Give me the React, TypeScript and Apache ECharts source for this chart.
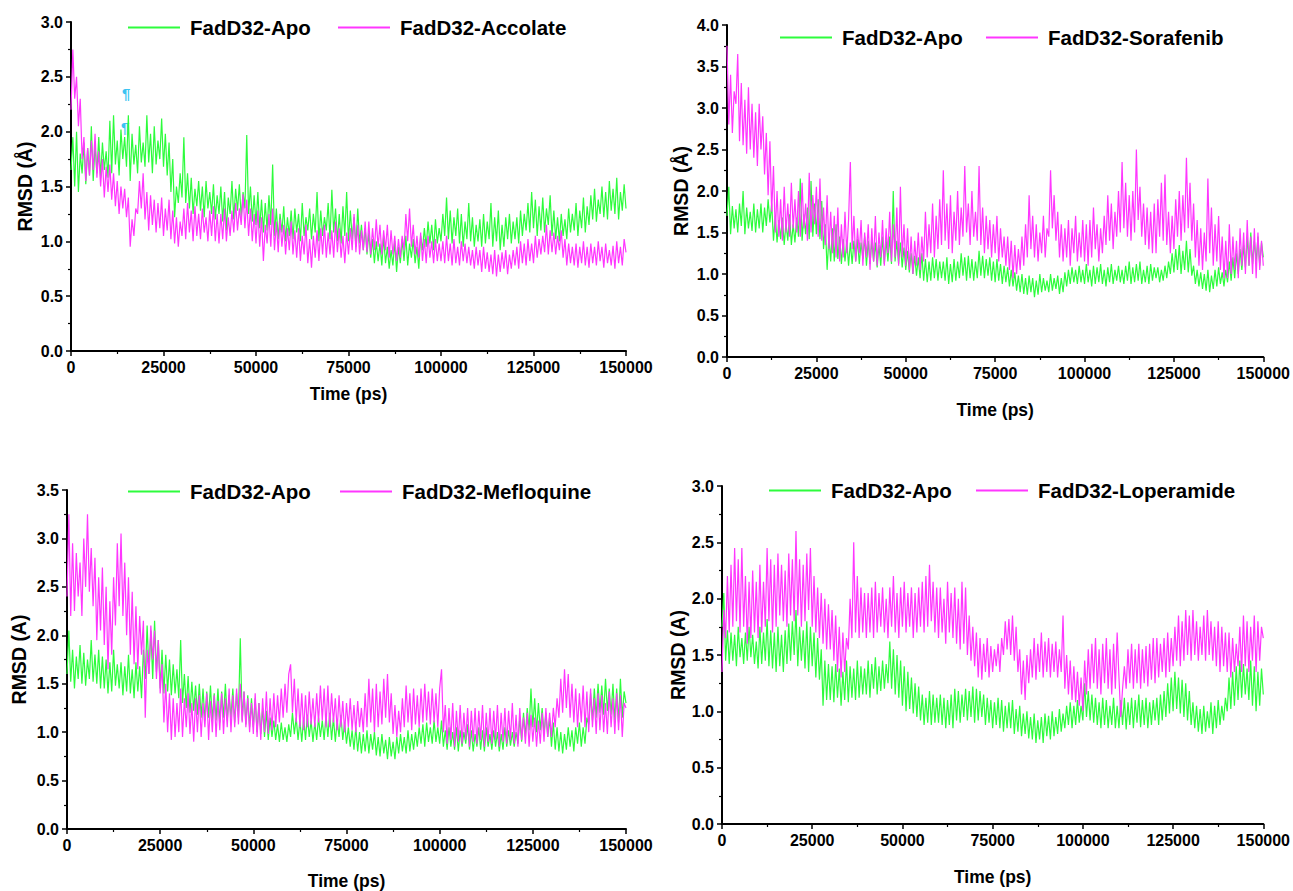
import React, { useEffect, useRef } from "react";
import * as echarts from "echarts";

// ---- data (RMSD in Å, one sample every STEP ps from 0 to 150000 ps; one row = 10000 ps) ----
const STEP = 500;
const xMin = 0;
const xMax = 150000;
const xInterval = 25000;

const apoName = "FadD32-Apo";
const ligandNames = ["FadD32-Accolate", "FadD32-Sorafenib", "FadD32-Mefloquine", "FadD32-Loperamide"];
const yMaxes = [3.0, 4.0, 3.5, 3.0];
const yNames = ["RMSD (Å)", "RMSD (Å)", "RMSD (A)", "RMSD (A)"];
const xName = "Time (ps)";

const apo1 = [
  1.65, 1.95, 1.5, 2.0, 1.45, 1.8, 1.62, 1.9, 1.52, 1.85, 1.6, 2.05, 1.55, 1.88, 1.62, 1.95, 1.58, 1.9, 1.65, 1.82,
  1.58, 2.1, 1.62, 2.15, 1.7, 1.92, 1.6, 2.02, 1.75, 1.95, 1.68, 2.15, 1.55, 1.98, 1.7, 1.88, 1.62, 2.05, 1.72, 1.9,
  1.68, 2.15, 1.72, 1.98, 1.62, 2.05, 1.7, 1.92, 1.75, 2.12, 1.68, 1.98, 1.6, 1.9, 1.45, 1.75, 1.22, 1.5, 1.35, 1.62,
  1.4, 1.95, 1.35, 1.62, 1.3, 1.58, 1.25, 1.48, 1.32, 1.55, 1.28, 1.5, 1.22, 1.55, 1.3, 1.45, 1.25, 1.52, 1.2, 1.42,
  1.25, 1.5, 1.18, 1.45, 1.1, 1.4, 1.25, 1.55, 1.2, 1.48, 1.28, 1.52, 1.22, 1.45, 1.3, 1.97, 1.25, 1.5, 1.18, 1.42,
  1.15, 1.45, 1.12, 1.38, 1.08, 1.35, 1.1, 1.42, 1.15, 1.7, 1.05, 1.3, 1.02, 1.25, 1.08, 1.32, 1.0, 1.22, 1.05, 1.28,
  1.02, 1.3, 1.08, 1.25, 1.0, 1.35, 1.05, 1.22, 1.1, 1.3, 1.02, 1.25, 1.08, 1.45, 1.0, 1.28, 1.05, 1.22, 1.1, 1.35,
  1.02, 1.47, 1.08, 1.3, 1.0, 1.25, 0.98, 1.32, 1.05, 1.45, 1.0, 1.28, 1.02, 1.22, 0.95, 1.3, 0.98, 1.15, 0.92, 1.12,
  0.88, 1.08, 0.85, 1.02, 0.8, 1.0, 0.82, 0.98, 0.78, 1.05, 0.8, 0.95, 0.75, 0.92, 0.78, 1.0, 0.72, 0.95, 0.8, 1.02,
  0.82, 1.05, 0.78, 0.98, 0.85, 1.02, 0.8, 0.95, 0.75, 1.05, 0.92, 1.12, 0.95, 1.18, 0.98, 1.15, 0.92, 1.2, 0.98, 1.12,
  1.0, 1.25, 1.05, 1.4, 1.02, 1.28, 0.98, 1.22, 1.05, 1.3, 0.98, 1.25, 0.95, 1.18, 1.02, 1.35, 1.0, 1.22, 0.95, 1.15,
  1.0, 1.2, 0.95, 1.25, 0.98, 1.18, 1.02, 1.35, 0.95, 1.22, 1.0, 1.28, 0.92, 1.15, 0.95, 1.22, 1.02, 1.25, 0.98, 1.18,
  1.02, 1.22, 0.98, 1.28, 1.05, 1.25, 1.1, 1.35, 1.08, 1.45, 1.12, 1.38, 1.05, 1.32, 1.1, 1.4, 1.08, 1.3, 1.15, 1.42,
  1.05, 1.28, 1.02, 1.22, 1.0, 1.25, 1.05, 1.2, 1.02, 1.3, 1.08, 1.25, 1.1, 1.35, 1.05, 1.28, 1.12, 1.4, 1.08, 1.32,
  1.15, 1.42, 1.2, 1.48, 1.18, 1.38, 1.25, 1.5, 1.22, 1.45, 1.2, 1.55, 1.28, 1.48, 1.25, 1.58, 1.2, 1.45, 1.28, 1.52,
  1.3,
];
const accolate = [
  2.2, 2.75, 2.3, 2.5, 2.05, 2.3, 1.75, 1.95, 1.55, 1.85, 1.6, 1.92, 1.65, 1.98, 1.58, 1.82, 1.5, 1.75, 1.4, 1.68,
  1.45, 1.7, 1.38, 1.62, 1.32, 1.55, 1.25, 1.5, 1.3, 1.48, 1.22, 1.4, 0.95, 1.2, 1.05, 1.3, 1.25, 1.55, 1.3, 1.62,
  1.2, 1.45, 1.1, 1.42, 1.15, 1.38, 1.08, 1.35, 1.12, 1.4, 1.05, 1.3, 1.1, 1.38, 1.02, 1.28, 0.98, 1.22, 0.95, 1.18,
  1.05, 1.3, 1.02, 1.35, 1.08, 1.28, 1.0, 1.32, 1.05, 1.25, 1.02, 1.3, 1.08, 1.22, 1.0, 1.28, 1.05, 1.32, 1.0, 1.25,
  0.98, 1.25, 1.02, 1.3, 1.0, 1.22, 1.05, 1.28, 1.08, 1.35, 1.1, 1.3, 1.15, 1.43, 1.12, 1.38, 1.05, 1.3, 1.0, 1.25,
  0.98, 1.28, 0.95, 1.22, 0.82, 1.15, 0.98, 1.25, 0.95, 1.3, 0.92, 1.18, 0.9, 1.2, 0.95, 1.15, 0.88, 1.12, 0.92, 1.18,
  0.88, 1.1, 0.85, 1.12, 0.82, 1.05, 0.88, 1.15, 0.8, 1.02, 0.76, 1.05, 0.85, 1.1, 0.82, 1.12, 0.88, 1.15, 0.85, 1.08,
  0.88, 1.1, 0.85, 1.18, 0.9, 1.12, 0.85, 1.05, 0.8, 1.08, 0.88, 1.12, 0.92, 1.25, 0.9, 1.15, 0.88, 1.1, 0.92, 1.18,
  0.9, 1.18, 0.88, 1.12, 0.92, 1.2, 0.95, 1.15, 0.88, 1.1, 0.92, 1.15, 0.85, 1.1, 0.88, 1.05, 0.82, 1.02, 0.85, 1.05,
  0.92, 1.25, 1.0, 1.3, 0.95, 1.15, 0.88, 1.05, 0.85, 1.08, 0.82, 1.02, 0.8, 1.05, 0.85, 1.0, 0.8, 1.02, 0.82, 0.98,
  0.82, 1.0, 0.8, 1.05, 0.82, 0.98, 0.78, 1.02, 0.8, 0.95, 0.78, 1.0, 0.82, 0.98, 0.8, 0.95, 0.78, 0.92, 0.75, 0.95,
  0.78, 0.92, 0.72, 0.95, 0.75, 0.9, 0.72, 0.88, 0.7, 0.92, 0.68, 0.88, 0.72, 0.9, 0.75, 0.92, 0.7, 0.88, 0.75, 0.92,
  0.78, 0.95, 0.75, 1.0, 0.8, 0.98, 0.78, 1.02, 0.82, 0.98, 0.8, 1.05, 0.85, 1.02, 0.88, 1.05, 0.9, 1.15, 0.88, 1.1,
  0.9, 1.08, 0.88, 1.05, 0.92, 1.1, 0.85, 1.02, 0.78, 0.98, 0.8, 0.95, 0.78, 0.98, 0.76, 0.95, 0.8, 1.0, 0.78, 0.95,
  0.76, 0.98, 0.8, 0.95, 0.78, 1.0, 0.82, 0.95, 0.76, 0.98, 0.8, 0.92, 0.78, 0.96, 0.75, 1.0, 0.8, 0.95, 0.78, 1.02,
  0.9,
];
const apo2 = [
  1.7, 2.05, 1.48, 1.82, 1.55, 1.78, 1.5, 1.85, 1.58, 2.0, 1.48, 1.8, 1.55, 1.75, 1.52, 1.85, 1.5, 1.78, 1.55, 1.85,
  1.5, 1.8, 1.58, 1.9, 1.62, 1.85, 1.4, 1.7, 1.38, 1.65, 1.42, 1.68, 1.35, 1.62, 1.4, 1.72, 1.35, 1.6, 1.38, 1.68,
  1.45, 2.15, 1.4, 1.72, 1.48, 1.8, 1.42, 2.12, 1.45, 1.85, 1.48, 1.9, 1.42, 1.88, 1.3, 1.6, 1.05, 1.45, 1.15, 1.55,
  1.15, 1.6, 1.18, 1.45, 1.12, 1.42, 1.15, 1.4, 1.1, 1.38, 1.12, 1.4, 1.15, 1.42, 1.12, 1.38, 1.18, 1.45, 1.1, 1.4,
  1.12, 1.4, 1.15, 1.38, 1.08, 1.35, 1.1, 1.45, 1.12, 1.42, 1.15, 1.45, 1.12, 2.0, 1.15, 1.4, 1.12, 1.38, 1.08, 1.32,
  1.05, 1.28, 1.02, 1.25, 1.0, 1.22, 0.98, 1.2, 0.95, 1.25, 0.92, 1.18, 0.9, 1.15, 0.92, 1.2, 0.95, 1.18, 0.92, 1.15,
  0.95, 1.15, 0.92, 1.2, 0.88, 1.12, 0.9, 1.18, 0.92, 1.15, 0.95, 1.25, 0.98, 1.2, 0.92, 1.22, 0.95, 1.18, 0.92, 1.15,
  0.95, 1.28, 0.98, 1.22, 0.95, 1.18, 0.98, 1.2, 0.92, 1.15, 0.9, 1.18, 0.92, 1.12, 0.88, 1.1, 0.9, 1.08, 0.85, 1.05,
  0.85, 1.02, 0.8, 0.98, 0.78, 1.0, 0.76, 0.95, 0.75, 0.98, 0.78, 0.95, 0.72, 0.92, 0.75, 1.0, 0.78, 0.95, 0.8, 0.92,
  0.78, 1.0, 0.8, 0.95, 0.82, 0.98, 0.76, 0.95, 0.78, 1.02, 0.85, 1.05, 0.88, 1.08, 0.9, 1.05, 0.88, 1.1, 0.9, 1.05,
  0.88, 1.12, 0.9, 1.05, 0.85, 1.1, 0.88, 1.08, 0.9, 1.12, 0.88, 1.05, 0.85, 1.08, 0.9, 1.12, 0.88, 1.05, 0.92, 1.1,
  0.9, 1.05, 0.88, 1.1, 0.92, 1.15, 0.88, 1.08, 0.9, 1.12, 0.92, 1.15, 0.88, 1.05, 0.9, 1.1, 0.88, 1.12, 0.92, 1.08,
  0.95, 1.08, 0.9, 1.05, 0.92, 1.1, 0.95, 1.15, 1.0, 1.25, 1.02, 1.3, 1.05, 1.35, 1.0, 1.28, 1.05, 1.4, 1.02, 1.3,
  0.98, 1.1, 0.88, 1.05, 0.85, 1.02, 0.82, 1.0, 0.8, 1.05, 0.78, 0.98, 0.82, 1.05, 0.85, 1.08, 0.88, 1.02, 0.85, 1.05,
  0.9, 1.15, 0.92, 1.2, 0.95, 1.25, 1.0, 1.3, 1.05, 1.35, 1.08, 1.45, 1.1, 1.5, 1.12, 1.4, 1.15, 1.45, 1.1, 1.38,
  1.2,
];
const sorafenib = [
  3.75, 2.8, 3.4, 2.7, 3.2, 3.05, 3.65, 2.6, 3.3, 2.55, 3.1, 2.45, 3.25, 2.5, 3.05, 2.4, 2.95, 2.3, 3.05, 2.5,
  2.9, 2.2, 2.7, 1.95, 2.6, 1.75, 2.3, 1.5, 2.0, 1.45, 1.9, 1.4, 2.05, 1.5, 1.85, 1.45, 2.1, 1.55, 1.9, 1.5,
  2.0, 1.45, 2.1, 1.55, 1.85, 1.4, 2.22, 1.5, 1.95, 1.6, 2.05, 1.45, 2.15, 1.4, 1.8, 1.35, 1.95, 1.3, 1.75, 1.25,
  1.7, 1.2, 1.8, 1.15, 1.6, 1.2, 1.75, 1.25, 1.65, 2.35, 1.3, 1.7, 1.15, 1.55, 1.25, 1.65, 1.1, 1.5, 1.2, 1.6,
  1.05, 1.55, 1.15, 1.7, 1.1, 1.5, 1.2, 1.65, 1.1, 1.55, 1.25, 1.75, 1.15, 1.6, 1.2, 1.8, 1.1, 2.05, 1.2, 1.6,
  1.1, 1.55, 1.05, 1.45, 1.0, 1.4, 1.1, 1.5, 1.05, 1.45, 1.15, 1.75, 1.2, 1.6, 1.25, 1.85, 1.2, 1.7, 1.3, 1.9,
  1.35, 2.25, 1.4, 1.85, 1.3, 1.95, 1.25, 1.75, 1.4, 2.0, 1.35, 1.8, 1.45, 2.3, 1.5, 1.85, 1.35, 2.0, 1.45, 1.75,
  1.4, 2.3, 1.35, 1.8, 1.25, 1.7, 1.3, 1.65, 1.2, 1.6, 1.25, 1.7, 1.15, 1.55, 1.2, 1.45, 1.1, 1.45, 1.05, 1.4,
  0.95, 1.35, 1.0, 1.3, 1.05, 1.45, 1.1, 1.6, 1.2, 1.95, 1.3, 1.7, 1.2, 1.6, 1.15, 1.5, 1.25, 1.7, 1.2, 1.55,
  1.45, 2.25, 1.55, 1.95, 1.4, 1.75, 1.2, 1.6, 1.15, 1.55, 1.2, 1.65, 1.1, 1.55, 1.25, 1.7, 1.15, 1.5, 1.2, 1.65,
  1.15, 1.6, 1.1, 1.65, 1.2, 1.8, 1.3, 1.6, 1.15, 1.55, 1.25, 1.7, 1.35, 1.95, 1.4, 1.85, 1.3, 1.75, 1.45, 2.0,
  1.5, 2.35, 1.55, 2.1, 1.45, 1.95, 1.4, 2.0, 1.5, 2.5, 1.65, 2.05, 1.45, 1.85, 1.35, 1.8, 1.3, 1.75, 1.25, 1.85,
  1.25, 1.9, 1.45, 2.1, 1.4, 2.2, 1.35, 1.75, 1.25, 1.7, 1.3, 1.9, 1.45, 2.0, 1.4, 1.95, 1.5, 2.4, 1.55, 2.1,
  1.4, 1.85, 1.2, 1.65, 1.1, 1.55, 1.05, 1.5, 1.15, 2.15, 1.25, 1.8, 1.1, 1.6, 1.15, 1.7, 1.05, 1.45, 0.95, 1.4,
  0.95, 1.6, 1.0, 1.45, 1.05, 1.4, 0.95, 1.55, 1.1, 1.5, 1.0, 1.65, 1.1, 1.45, 1.0, 1.55, 0.95, 1.5, 1.05, 1.4,
  1.1,
];
const apo3 = [
  1.6, 2.05, 1.52, 1.85, 1.45, 1.78, 1.55, 1.9, 1.5, 1.82, 1.48, 1.75, 1.55, 1.95, 1.52, 1.8, 1.5, 1.85, 1.45, 1.78,
  1.45, 1.75, 1.4, 1.72, 1.42, 1.85, 1.48, 1.7, 1.45, 1.72, 1.38, 1.68, 1.42, 1.8, 1.4, 1.65, 1.35, 1.72, 1.42, 1.68,
  1.35, 1.85, 1.55, 2.1, 1.6, 2.05, 1.55, 2.15, 1.62, 1.95, 1.45, 1.85, 1.4, 1.8, 1.42, 1.75, 1.38, 1.7, 1.4, 1.65,
  1.35, 1.95, 1.3, 1.6, 1.25, 1.58, 1.2, 1.52, 1.22, 1.48, 1.18, 1.5, 1.15, 1.45, 1.12, 1.42, 1.15, 1.48, 1.12, 1.4,
  1.12, 1.45, 1.1, 1.42, 1.15, 1.5, 1.12, 1.38, 1.15, 1.45, 1.1, 1.4, 1.15, 1.97, 1.12, 1.42, 1.08, 1.38, 1.05, 1.35,
  1.05, 1.35, 1.0, 1.3, 0.98, 1.25, 0.95, 1.22, 0.92, 1.15, 0.95, 1.12, 0.92, 1.08, 0.9, 1.1, 0.92, 1.05, 0.9, 1.08,
  0.95, 1.2, 0.98, 1.15, 0.92, 1.12, 0.9, 1.15, 0.92, 1.18, 0.95, 1.12, 0.9, 1.1, 0.92, 1.15, 0.95, 1.12, 0.92, 1.18,
  0.95, 1.2, 0.92, 1.15, 0.9, 1.12, 0.95, 1.18, 0.92, 1.1, 0.88, 1.05, 0.85, 1.02, 0.82, 1.05, 0.8, 1.0, 0.78, 0.98,
  0.8, 1.02, 0.78, 0.98, 0.82, 1.0, 0.76, 0.95, 0.75, 0.98, 0.78, 0.92, 0.72, 0.95, 0.75, 0.9, 0.72, 0.95, 0.78, 0.98,
  0.8, 0.95, 0.78, 1.02, 0.8, 0.98, 0.82, 1.0, 0.85, 1.05, 0.88, 1.08, 0.85, 1.1, 0.9, 1.05, 0.88, 1.12, 0.9, 1.05,
  0.88, 1.12, 0.85, 1.02, 0.82, 1.05, 0.85, 1.0, 0.82, 1.05, 0.8, 1.02, 0.85, 1.0, 0.88, 1.08, 0.82, 1.02, 0.8, 0.98,
  0.85, 1.05, 0.82, 1.02, 0.8, 1.05, 0.85, 0.98, 0.82, 1.02, 0.85, 1.0, 0.8, 0.98, 0.82, 1.05, 0.85, 1.02, 0.86, 1.0,
  0.85, 1.0, 0.88, 1.15, 0.9, 1.2, 0.95, 1.25, 1.02, 1.45, 1.05, 1.35, 1.0, 1.3, 1.02, 1.25, 0.98, 1.2, 0.95, 1.15,
  0.85, 1.1, 0.82, 1.05, 0.8, 1.0, 0.78, 0.98, 0.82, 1.05, 0.85, 1.02, 0.8, 1.05, 0.88, 1.1, 0.85, 1.05, 0.88, 1.15,
  1.08, 1.4, 1.12, 1.45, 1.15, 1.5, 1.2, 1.48, 1.18, 1.55, 1.22, 1.45, 1.18, 1.5, 1.12, 1.45, 1.1, 1.55, 1.15, 1.42,
  1.3,
];
const mefloquine = [
  2.4, 3.25, 2.2, 2.95, 2.25, 2.85, 2.4, 2.75, 2.2, 3.0, 2.5, 3.25, 2.45, 2.9, 2.3, 2.8, 1.95, 2.6, 2.05, 2.7,
  1.9, 2.5, 1.65, 2.35, 1.8, 2.6, 2.1, 2.95, 2.3, 3.05, 2.2, 2.75, 2.0, 2.6, 1.8, 2.45, 1.7, 2.3, 1.65, 2.2,
  1.8, 2.15, 1.15, 1.85, 1.6, 2.1, 1.75, 2.05, 1.55, 1.95, 1.4, 1.7, 1.1, 1.5, 1.0, 1.4, 0.92, 1.35, 0.95, 1.3,
  1.0, 1.45, 0.95, 1.35, 1.05, 1.4, 0.98, 1.3, 0.9, 1.35, 1.0, 1.38, 0.95, 1.3, 1.05, 1.4, 0.92, 1.32, 1.0, 1.38,
  0.95, 1.32, 1.02, 1.4, 0.98, 1.35, 1.05, 1.45, 1.0, 1.38, 1.05, 1.45, 1.08, 1.5, 1.1, 1.42, 1.05, 1.35, 1.0, 1.3,
  0.98, 1.4, 0.95, 1.3, 0.92, 1.35, 1.0, 1.42, 0.98, 1.35, 1.02, 1.4, 1.05, 1.38, 1.1, 1.45, 1.15, 1.5, 1.2, 1.6,
  1.7, 1.2, 1.55, 1.1, 1.45, 1.05, 1.4, 1.02, 1.38, 1.05, 1.42, 1.08, 1.35, 1.05, 1.4, 1.1, 1.48, 1.12, 1.45, 1.05,
  1.48, 1.05, 1.4, 1.1, 1.35, 1.02, 1.38, 1.05, 1.32, 1.0, 1.3, 1.05, 1.35, 1.02, 1.28, 1.0, 1.32, 1.05, 1.25, 1.0,
  1.4, 1.05, 1.55, 1.1, 1.45, 1.0, 1.5, 1.05, 1.42, 1.08, 1.55, 1.15, 1.6, 1.1, 1.4, 0.98, 1.28, 0.95, 1.22, 1.0,
  1.35, 1.05, 1.48, 1.1, 1.4, 1.02, 1.45, 1.08, 1.38, 1.05, 1.45, 1.1, 1.5, 1.12, 1.42, 1.08, 1.45, 1.1, 1.4, 1.05,
  1.45, 1.65, 1.0, 1.28, 0.88, 1.25, 0.92, 1.3, 0.85, 1.22, 0.9, 1.28, 0.88, 1.2, 0.92, 1.25, 0.85, 1.22, 0.9, 1.25,
  0.88, 1.22, 0.92, 1.28, 0.85, 1.2, 0.9, 1.25, 0.88, 1.22, 0.92, 1.28, 0.85, 1.2, 0.9, 1.25, 0.88, 1.22, 0.92, 1.3,
  0.88, 1.18, 0.85, 1.25, 0.92, 1.15, 0.88, 1.2, 0.85, 1.18, 0.9, 1.15, 0.85, 1.12, 0.88, 1.2, 0.9, 1.25, 0.95, 1.2,
  0.95, 1.25, 1.05, 1.35, 1.15, 1.55, 1.2, 1.65, 1.25, 1.6, 1.15, 1.5, 1.1, 1.45, 1.05, 1.4, 1.1, 1.48, 1.05, 1.42,
  1.0, 1.45, 1.05, 1.35, 0.98, 1.4, 1.02, 1.38, 1.0, 1.3, 0.98, 1.42, 1.05, 1.35, 0.98, 1.4, 1.02, 1.38, 0.95, 1.3,
  1.25,
];
const apo4 = [
  1.75, 2.05, 1.45, 1.72, 1.42, 1.7, 1.45, 1.68, 1.4, 1.75, 1.48, 1.65, 1.42, 1.7, 1.45, 1.75, 1.48, 1.68, 1.42, 1.62,
  1.38, 1.75, 1.42, 1.7, 1.45, 1.82, 1.4, 1.72, 1.38, 1.7, 1.35, 1.75, 1.4, 1.68, 1.35, 1.72, 1.42, 1.78, 1.45, 1.8,
  1.5, 1.9, 1.4, 1.75, 1.45, 1.72, 1.38, 1.8, 1.35, 1.75, 1.4, 1.7, 1.3, 1.65, 1.28, 1.55, 1.05, 1.45, 1.1, 1.42,
  1.1, 1.4, 1.08, 1.42, 1.12, 1.38, 1.05, 1.35, 1.1, 1.45, 1.08, 1.4, 1.12, 1.38, 1.1, 1.45, 1.12, 1.4, 1.15, 1.38,
  1.15, 1.45, 1.12, 1.42, 1.2, 1.48, 1.15, 1.4, 1.18, 1.45, 1.2, 1.42, 1.25, 1.62, 1.2, 1.55, 1.15, 1.5, 1.12, 1.45,
  1.05, 1.4, 1.0, 1.35, 1.02, 1.3, 0.98, 1.25, 0.95, 1.22, 0.92, 1.15, 0.88, 1.12, 0.9, 1.18, 0.88, 1.15, 0.9, 1.12,
  0.9, 1.15, 0.88, 1.12, 0.85, 1.1, 0.88, 1.15, 0.85, 1.2, 0.92, 1.18, 0.9, 1.15, 0.95, 1.2, 0.92, 1.18, 0.95, 1.22,
  0.9, 1.2, 0.92, 1.18, 0.95, 1.15, 0.88, 1.12, 0.9, 1.1, 0.85, 1.08, 0.88, 1.12, 0.85, 1.1, 0.82, 1.05, 0.85, 1.08,
  0.85, 1.1, 0.8, 1.02, 0.82, 1.05, 0.78, 0.98, 0.8, 1.0, 0.76, 0.95, 0.75, 0.98, 0.72, 0.92, 0.75, 0.95, 0.72, 0.98,
  0.78, 0.96, 0.75, 1.0, 0.78, 0.95, 0.8, 1.02, 0.82, 0.98, 0.85, 1.05, 0.88, 1.08, 0.85, 1.05, 0.88, 1.1, 0.9, 1.05,
  0.92, 1.25, 0.95, 1.18, 0.92, 1.15, 0.9, 1.12, 0.88, 1.08, 0.85, 1.12, 0.88, 1.1, 0.85, 1.05, 0.88, 1.12, 0.85, 1.05,
  0.85, 1.1, 0.88, 1.12, 0.84, 1.08, 0.88, 1.12, 0.85, 1.1, 0.9, 1.15, 0.86, 1.1, 0.88, 1.12, 0.85, 1.08, 0.88, 1.1,
  0.92, 1.12, 0.88, 1.15, 0.92, 1.18, 0.95, 1.25, 0.98, 1.3, 1.0, 1.35, 1.02, 1.3, 0.98, 1.28, 0.95, 1.25, 0.92, 1.18,
  0.88, 1.08, 0.85, 1.05, 0.82, 1.02, 0.8, 1.05, 0.82, 1.0, 0.85, 1.08, 0.8, 1.05, 0.85, 1.1, 0.88, 1.05, 0.92, 1.12,
  1.0, 1.3, 1.02, 1.35, 1.05, 1.4, 1.1, 1.45, 1.12, 1.42, 1.15, 1.38, 1.1, 1.45, 1.05, 1.4, 1.0, 1.35, 1.05, 1.38,
  1.15,
];
const loperamide = [
  1.35, 1.9, 1.65, 2.2, 1.7, 2.3, 1.75, 2.45, 1.8, 2.35, 1.7, 2.45, 1.75, 2.2, 1.6, 2.15, 1.65, 2.25, 1.7, 2.15,
  1.65, 2.3, 1.7, 2.15, 1.75, 2.45, 1.8, 2.35, 1.7, 2.3, 1.75, 2.4, 1.85, 2.3, 1.8, 2.25, 1.75, 2.4, 1.85, 2.35,
  1.8, 2.6, 1.85, 2.35, 1.75, 2.3, 1.8, 2.4, 1.9, 2.45, 1.75, 2.2, 1.7, 2.1, 1.65, 2.05, 1.6, 2.0, 1.55, 1.95,
  1.55, 1.9, 1.45, 1.85, 1.35, 1.75, 1.3, 1.7, 1.35, 1.65, 1.55, 2.0, 1.65, 2.5, 1.7, 2.2, 1.65, 2.1, 1.7, 2.05,
  1.65, 2.05, 1.7, 2.1, 1.65, 2.15, 1.7, 2.05, 1.75, 2.1, 1.7, 2.0, 1.65, 2.1, 1.75, 2.2, 1.7, 2.05, 1.65, 2.1,
  1.75, 2.15, 1.7, 2.05, 1.75, 2.1, 1.65, 2.05, 1.7, 2.1, 1.75, 2.15, 1.7, 2.2, 1.75, 2.3, 1.8, 2.15, 1.7, 2.1,
  1.65, 2.1, 1.7, 2.0, 1.6, 2.15, 1.7, 2.05, 1.65, 2.1, 1.6, 2.0, 1.55, 2.15, 1.6, 2.1, 1.5, 1.85, 1.45, 1.75,
  1.4, 1.7, 1.3, 1.65, 1.28, 1.6, 1.35, 1.65, 1.3, 1.58, 1.35, 1.55, 1.4, 1.6, 1.35, 1.65, 1.5, 1.8, 1.55, 1.82,
  1.5, 1.85, 1.45, 1.75, 1.35, 1.55, 1.15, 1.45, 1.1, 1.5, 1.25, 1.55, 1.3, 1.65, 1.28, 1.6, 1.35, 1.7, 1.3, 1.62,
  1.35, 1.65, 1.3, 1.6, 1.35, 1.62, 1.3, 1.55, 1.35, 1.85, 1.2, 1.5, 1.15, 1.45, 1.1, 1.4, 1.08, 1.35, 1.05, 1.3,
  1.0, 1.45, 1.15, 1.55, 1.2, 1.6, 1.25, 1.65, 1.2, 1.55, 1.15, 1.6, 1.25, 1.65, 1.2, 1.55, 1.15, 1.6, 1.2, 1.7,
  1.3, 0.95, 1.2, 1.4, 1.2, 1.55, 1.25, 1.6, 1.2, 1.55, 1.25, 1.6, 1.2, 1.55, 1.25, 1.58, 1.22, 1.6, 1.28, 1.65,
  1.25, 1.65, 1.3, 1.6, 1.35, 1.65, 1.3, 1.7, 1.35, 1.65, 1.4, 1.75, 1.45, 1.85, 1.4, 1.8, 1.45, 1.9, 1.5, 1.85,
  1.45, 1.9, 1.5, 1.8, 1.45, 1.75, 1.5, 1.85, 1.45, 1.9, 1.5, 1.8, 1.45, 1.75, 1.4, 1.8, 1.35, 1.75, 1.4, 1.7,
  1.35, 1.7, 1.3, 1.65, 1.35, 1.6, 1.4, 1.75, 1.35, 1.85, 1.4, 1.8, 1.35, 1.75, 1.45, 1.85, 1.35, 1.8, 1.45, 1.75,
  1.65,
];

const apoSeries = [apo1, apo2, apo3, apo4];
const ligandSeries = [accolate, sorafenib, mefloquine, loperamide];

// ---- layout & style ----
const GREEN = "#2dfc3c";
const MAGENTA = "#ff36ff";
const FONT = "'Liberation Sans', Arial, Helvetica, sans-serif";

const grids = [
  { left: 71, top: 22, width: 555, height: 329 },
  { left: 727, top: 25, width: 540, height: 332 },
  { left: 67, top: 490, width: 559, height: 340 },
  { left: 722, top: 486, width: 545, height: 338 },
];
const xNameGaps = [34, 44, 43, 44];
const yNameGaps = [36, 36, 38, 33];
const legendTops = [17, 27, 481, 480];
const legendLefts = [
  [128, 338],
  [780, 986],
  [128, 340],
  [769, 976],
];

function toPoints(values: number[]) {
  return values.map((v, i) => [i * STEP, v]);
}

function buildOption() {
  const axisLine = { show: true, onZero: false, lineStyle: { color: "#000", width: 2 } };
  const axisTick = { show: true, inside: false, length: 5, lineStyle: { color: "#000", width: 1.5 } };
  const minorTick = { show: true, splitNumber: 2, length: 3, lineStyle: { color: "#000", width: 1.2 } };
  const labelStyle = { color: "#000", fontFamily: FONT, fontWeight: "bold" as const, fontSize: 16 };

  const xAxis = grids.map((_, i) => ({
    type: "value" as const,
    gridIndex: i,
    min: xMin,
    max: xMax,
    interval: xInterval,
    name: xName,
    nameLocation: "middle" as const,
    nameGap: xNameGaps[i],
    nameTextStyle: { color: "#000", fontFamily: FONT, fontWeight: "bold" as const, fontSize: 17.5 },
    axisLine,
    axisTick,
    minorTick,
    splitLine: { show: false },
    axisLabel: { ...labelStyle, margin: 8, formatter: (v: number) => String(v) },
  }));

  const yAxis = grids.map((_, i) => ({
    type: "value" as const,
    gridIndex: i,
    min: 0,
    max: yMaxes[i],
    interval: 0.5,
    name: yNames[i],
    nameLocation: "middle" as const,
    nameRotate: 90,
    nameGap: yNameGaps[i],
    nameTextStyle: { color: "#000", fontFamily: FONT, fontWeight: "bold" as const, fontSize: 19.5 },
    axisLine,
    axisTick,
    minorTick,
    splitLine: { show: false },
    axisLabel: { ...labelStyle, margin: 8, formatter: (v: number) => v.toFixed(1) },
  }));

  const series: any[] = [];
  grids.forEach((_, i) => {
    series.push({
      type: "line",
      name: apoName,
      xAxisIndex: i,
      yAxisIndex: i,
      data: toPoints(apoSeries[i]),
      symbol: "none",
      showSymbol: false,
      lineStyle: { color: GREEN, width: 1.2 },
      itemStyle: { color: GREEN },
      z: 2,
    });
    series.push({
      type: "line",
      name: ligandNames[i],
      xAxisIndex: i,
      yAxisIndex: i,
      data: toPoints(ligandSeries[i]),
      symbol: "none",
      showSymbol: false,
      lineStyle: { color: MAGENTA, width: 1.2 },
      itemStyle: { color: MAGENTA },
      z: 3,
    });
  });

  const legend: any[] = [];
  grids.forEach((_, i) => {
    [apoName, ligandNames[i]].forEach((nm, k) => {
      legend.push({
        data: [{ name: nm, icon: "rect" }],
        left: legendLefts[i][k],
        top: legendTops[i],
        orient: "horizontal",
        itemWidth: 52,
        itemHeight: 2,
        selectedMode: false,
        padding: 0,
        textStyle: {
          color: "#000",
          fontFamily: FONT,
          fontWeight: "bold",
          fontSize: 20.5,
          padding: [0, 0, 0, 5],
        },
      });
    });
  });

  return {
    animation: false,
    backgroundColor: "#fff",
    grid: grids.map((g) => ({ ...g, containLabel: false })),
    xAxis,
    yAxis,
    legend,
    series,
    graphic: [
      { type: "text", left: 122, top: 86, z: 0, style: { text: "¶", fill: "#3cc3f2", font: "bold 15px " + FONT } },
      { type: "text", left: 121, top: 120, z: 0, style: { text: "¶", fill: "#3cc3f2", font: "bold 15px " + FONT } },
    ],
  };
}

export default function App() {
  const ref = useRef<HTMLDivElement>(null);
  useEffect(() => {
    if (!ref.current) return;
    const chart = echarts.init(ref.current, undefined, { renderer: "svg" });
    chart.setOption(buildOption() as any);
    return () => chart.dispose();
  }, []);
  return (
    <div
      ref={ref}
      style={{ position: "absolute", left: 0, top: 0, width: 1293, height: 891, background: "#fff" }}
    />
  );
}
